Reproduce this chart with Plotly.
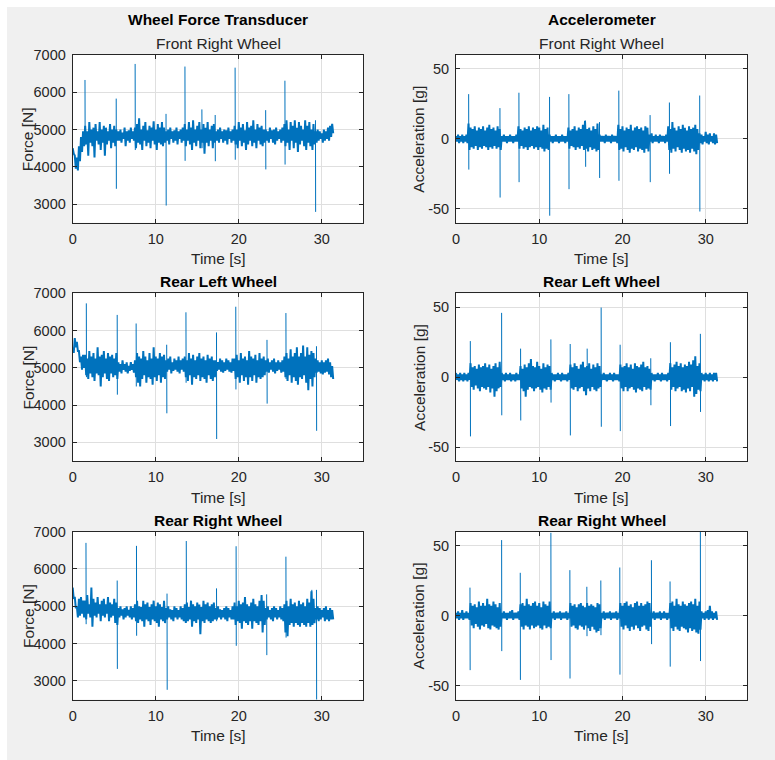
import plotly.graph_objects as go

W, H = 775, 760
BIN = 0.25  # s: each envelope value covers one 0.25 s bin, first bin starts at t = 0

# ---------------- data ----------------
time_ticks = [0, 10, 20, 30]
force_ticks = [3000, 4000, 5000, 6000, 7000]
accel_ticks = [-50, 0, 50]
accel_ticktext = ["-50", "0", "50"]

# Wheel force transducer, Front Right Wheel [N]: per-bin max / min of the noise band
fr_force_hi = [4500, 4300, 4250, 4550, 4800, 4950,
               5100, 4950, 5200, 5000, 5050, 5150, 4950, 5200, 5000, 5100, 5050, 4950, 5150, 5000, 5100, 5000,
               4950, 5000, 4920, 5050, 4950, 4980, 5050, 4950,
               5050, 5150, 5300, 5000, 5100, 5200, 4980, 5100, 5050, 5220, 5000, 5150, 5050, 5200, 5050,
               4950, 5000, 5050, 4950, 4980, 5050, 4950, 5000, 5050,
               5150, 5000, 5200, 5050, 5250, 5000, 5100, 5200, 5000, 5150, 5050, 5200, 5000, 5100, 5150,
               4950, 5000, 5050, 4950, 5000, 4980, 5050, 4950, 5000,
               5100, 5000, 5200, 5050, 5150, 4980, 5200, 5050, 5100, 5250, 5000, 5150, 5050, 5100, 5000,
               5000, 4950, 5050, 4980, 5000, 5050, 4950, 5000, 5050,
               5150, 5250, 5000, 5200, 5100, 5250, 5050, 5200, 5100, 5000, 5250, 5100, 5200, 5000, 5150,
               4950, 5000, 4950, 4900, 5000, 4950, 5050, 5100, 5150]
fr_force_lo = [4350, 3950, 3900, 4150, 4400, 4550,
               4600, 4300, 4650, 4550, 4250, 4700, 4600, 4450, 4650, 4300, 4600, 4700, 4500, 4650, 4550, 4700,
               4700, 4650, 4750, 4550, 4700, 4650, 4750, 4700,
               4500, 4650, 4600, 4450, 4700, 4550, 4650, 4500, 4700, 4600, 4450, 4650, 4600, 4550, 4650,
               4700, 4600, 4750, 4650, 4700, 4600, 4750, 4650, 4700,
               4550, 4700, 4600, 4450, 4650, 4550, 4700, 4500, 4650, 4350, 4650, 4550, 4700, 4500, 4650,
               4700, 4650, 4750, 4650, 4700, 4600, 4750, 4650, 4700,
               4600, 4500, 4700, 4550, 4650, 4450, 4600, 4700, 4550, 4650, 4500, 4700, 4600, 4550, 4650,
               4700, 4650, 4750, 4650, 4600, 4700, 4750, 4650, 4700,
               4550, 4650, 4450, 4700, 4500, 4650, 4400, 4600, 4700, 4550, 4450, 4650, 4550, 4450, 4600,
               4650, 4700, 4750, 4650, 4700, 4750, 4700, 4800, 4900]
fr_force_spk_t = [1.48, 5.24, 7.52, 11.24, 13.52, 15.56, 17.16, 19.56, 23.24, 25.56, 29.24]
fr_force_spk_up = [6330, 5830, 6760, 5420, 6690, 5540, 5390, 6660, 5520, 6310, 5250]
fr_force_spk_dn = [4600, 3410, 4450, 2960, 4160, 4500, 4150, 4190, 3930, 4060, 2790]

# Wheel force transducer, Rear Left Wheel [N]
rl_force_hi = [5550, 5800, 5700, 5450, 5300, 5350,
               5350, 5250, 5450, 5300, 5400, 5250, 5550, 5300, 5350, 5450, 5250, 5400, 5300, 5350, 5250, 5400,
               5150, 5100, 5200, 5100, 5150, 5050, 5150, 5100,
               5200, 5400, 5300, 5250, 5450, 5300, 5200, 5400, 5250, 5550, 5300, 5250, 5400, 5300, 5350,
               5200, 5250, 5300, 5150, 5250, 5200, 5300, 5200, 5250,
               5300, 5200, 5400, 5250, 5350, 5200, 5300, 5400, 5250, 5300, 5200, 5350, 5250, 5300, 5200,
               5200, 5150, 5250, 5200, 5150, 5250, 5200, 5150, 5250,
               5250, 5350, 5200, 5400, 5250, 5300, 5200, 5450, 5300, 5250, 5350, 5200, 5400, 5250, 5300,
               5200, 5250, 5150, 5200, 5250, 5150, 5200, 5150, 5200,
               5300, 5400, 5250, 5500, 5300, 5400, 5550, 5300, 5400, 5600, 5300, 5550, 5350, 5450, 5400,
               5250, 5200, 5150, 5200, 5150, 5200, 5250, 5150, 5050]
rl_force_lo = [5400, 5550, 5450, 5150, 4950, 5000,
               4800, 4700, 4850, 4750, 4650, 4850, 4800, 4500, 4750, 4850, 4700, 4650, 4850, 4750, 4800, 4700,
               4900, 4850, 4950, 4900, 4850, 4920, 4950, 4870,
               4750, 4600, 4500, 4700, 4800, 4600, 4750, 4700, 4550, 4750, 4650, 4800, 4600, 4750, 4700,
               4900, 4950, 4850, 4920, 4950, 4900, 4850, 4950, 4900,
               4750, 4650, 4800, 4550, 4750, 4700, 4800, 4650, 4750, 4700, 4600, 4800, 4700, 4650, 4750,
               4920, 4950, 4900, 4870, 4920, 4950, 4900, 4870, 4920,
               4700, 4750, 4600, 4800, 4650, 4750, 4550, 4750, 4650, 4800, 4600, 4750, 4700, 4750, 4800,
               4900, 4870, 4950, 4900, 4850, 4920, 4950, 4870, 4900,
               4750, 4650, 4800, 4600, 4750, 4650, 4550, 4750, 4700, 4800, 4600, 4400, 4700, 4500, 4750,
               4870, 4900, 4850, 4820, 4870, 4900, 4820, 4750, 4700]
rl_force_spk_t = [1.64, 5.36, 7.64, 11.32, 13.64, 17.32, 19.64, 23.40, 25.68, 29.36]
rl_force_spk_up = [6730, 6420, 6190, 5620, 6490, 5950, 6640, 5750, 6470, 5580]
rl_force_spk_dn = [4750, 4280, 4500, 3780, 4600, 3090, 4420, 4040, 4700, 3310]

# Wheel force transducer, Rear Right Wheel [N]
rr_force_hi = [5500, 5250, 5000, 5200, 5250, 5150,
               5150, 5300, 5050, 5500, 5200, 5100, 5250, 5050, 5150, 5200, 5050, 5250, 5100, 5050, 5200, 5100,
               4950, 5000, 4920, 4950, 5000, 4900, 5000, 4950,
               5050, 5150, 5000, 4980, 5150, 5050, 5100, 4980, 5050, 5150, 5000, 5100, 5050, 4980, 5150,
               4950, 5000, 4920, 4900, 5000, 4950, 4900, 5000, 4950,
               5050, 5100, 4980, 5150, 5050, 5000, 5100, 5050, 4980, 5150, 5050, 5100, 5000, 5050, 5100,
               4950, 5000, 4920, 4900, 4950, 5000, 4950, 4900, 5000,
               5100, 5000, 5150, 5050, 5100, 5250, 5050, 5000, 5100, 5200, 5050, 5000, 5150, 5300, 5150,
               4950, 5000, 4900, 4950, 5000, 4950, 4900, 5000, 4950,
               5050, 5150, 5000, 5200, 5050, 5100, 5000, 5150, 5050, 5100, 5000, 5200, 5100, 5400, 5200,
               4950, 5000, 4950, 4900, 4950, 5000, 4900, 4950, 4900]
rr_force_lo = [5200, 4950, 4700, 4750, 4800, 4700,
               4650, 4800, 4700, 4450, 4750, 4700, 4800, 4600, 4750, 4700, 4800, 4600, 4700, 4750, 4550, 4500,
               4700, 4750, 4650, 4700, 4750, 4700, 4650, 4700,
               4600, 4550, 4650, 4600, 4450, 4650, 4600, 4500, 4650, 4600, 4550, 4450, 4650, 4600, 4550,
               4650, 4700, 4650, 4600, 4700, 4650, 4700, 4650, 4600,
               4550, 4600, 4650, 4450, 4600, 4550, 4650, 4250, 4600, 4550, 4650, 4600, 4550, 4600, 4650,
               4650, 4700, 4650, 4700, 4650, 4600, 4700, 4650, 4650,
               4500, 4600, 4550, 4400, 4600, 4550, 4500, 4600, 4400, 4600, 4550, 4500, 4600, 4300, 4500,
               4650, 4700, 4650, 4600, 4700, 4650, 4700, 4650, 4600,
               4300, 4200, 4500, 4550, 4450, 4550, 4500, 4450, 4550, 4500, 4450, 4550, 4450, 4500, 4550,
               4650, 4600, 4650, 4700, 4600, 4650, 4600, 4650, 4650]
rr_force_spk_t = [1.60, 5.36, 7.68, 11.36, 13.68, 17.32, 19.68, 23.36, 25.68, 28.80, 29.36]
rr_force_spk_up = [6700, 5690, 6620, 5340, 6750, 5480, 6610, 5320, 6330, 5440, 5440]
rr_force_spk_dn = [4520, 3320, 4210, 2760, 4600, 4600, 3940, 3690, 4160, 4500, 2300]

# Accelerometer, Front Right Wheel [g]
fr_acc_hi = [2, 3, 2, 3, 2, 3,
             11, 8, 7, 9, 6, 8, 7, 9, 6, 8, 10, 7, 8, 6, 9, 7,
             2, 3, 2, 2, 3, 2, 2, 3,
             9, 7, 6, 8, 7, 9, 6, 8, 7, 9, 8, 6, 10, 7, 8,
             3, 2, 2, 3, 2, 2, 3, 2, 2,
             8, 6, 7, 9, 6, 8, 7, 10, 13, 7, 8, 6, 9, 7, 11,
             3, 2, 2, 3, 2, 2, 3, 2, 2,
             10, 7, 9, 6, 8, 7, 10, 6, 8, 9, 7, 8, 6, 9, 8,
             3, 4, 2, 3, 2, 3, 2, 2, 3,
             9, 7, 12, 8, 6, 9, 7, 10, 8, 6, 9, 7, 8, 10, 7,
             4, 3, 2, 5, 3, 4, 2, 4, 3]
fr_acc_lo = [-2, -3, -2, -3, -2, -3,
             -8, -6, -7, -5, -8, -6, -7, -5, -6, -8, -6, -7, -5, -7, -6, -8,
             -2, -2, -3, -2, -2, -3, -2, -2,
             -7, -5, -7, -6, -8, -6, -5, -7, -6, -8, -6, -7, -9, -7, -8,
             -2, -3, -2, -2, -3, -2, -2, -3, -2,
             -7, -5, -6, -8, -6, -7, -5, -8, -7, -9, -6, -8, -7, -9, -8,
             -2, -2, -3, -2, -2, -3, -2, -2, -3,
             -8, -7, -9, -6, -8, -10, -7, -8, -6, -9, -7, -8, -10, -7, -9,
             -2, -3, -2, -2, -3, -2, -2, -3, -2,
             -8, -10, -7, -9, -6, -8, -10, -7, -9, -8, -10, -7, -9, -11, -8,
             -3, -4, -2, -3, -4, -2, -3, -4, -3]
fr_acc_spk_t = [1.52, 5.28, 7.56, 11.24, 13.56, 15.56, 17.24, 19.56, 23.32, 25.64, 29.28]
fr_acc_spk_up = [32, 22, 33, 30, 32, 13, 12, 34.5, 17, 26, 31]
fr_acc_spk_dn = [-22, -42, -31, -55, -36, -20, -28, -30, -31, -25, -52]

# Accelerometer, Rear Left Wheel [g]
rl_acc_hi = [3, 2, 3, 2, 3, 2, 3,
             10, 7, 8, 6, 9, 7, 8, 10, 7, 9, 6, 8, 10, 7, 11,
             3, 2, 3, 2, 3, 2, 2, 3, 2,
             8, 6, 9, 7, 10, 13, 8, 7, 11, 8, 6, 10, 7, 9, 8,
             3, 2, 2, 3, 2, 3, 2, 2, 3,
             9, 7, 10, 8, 6, 9, 11, 7, 8, 10, 6, 9, 7, 10, 8,
             2, 3, 2, 2, 3, 2, 3, 2, 2,
             9, 7, 8, 10, 7, 9, 6, 10, 8, 7, 9, 11, 7, 8, 6,
             3, 2, 2, 3, 2, 3, 2, 2, 3,
             10, 7, 9, 11, 8, 10, 7, 9, 8, 11, 9, 12, 15, 8, 10,
             3, 2, 3, 2, 3, 2, 3, 3]
rl_acc_lo = [-2, -3, -2, -3, -2, -3, -2,
             -7, -9, -6, -8, -10, -7, -8, -9, -7, -11, -8, -14, -10, -8, -7,
             -2, -3, -2, -2, -3, -2, -3, -2, -2,
             -8, -10, -14, -9, -7, -8, -10, -8, -7, -9, -11, -8, -9, -7, -9,
             -2, -3, -2, -2, -3, -2, -2, -3, -2,
             -8, -9, -7, -10, -8, -7, -10, -13, -8, -10, -7, -9, -10, -8, -7,
             -2, -2, -3, -2, -2, -3, -2, -2, -3,
             -8, -10, -7, -10, -8, -7, -9, -11, -8, -9, -10, -7, -9, -8, -9,
             -2, -3, -2, -2, -3, -2, -2, -3, -2,
             -9, -7, -10, -8, -7, -10, -9, -11, -8, -10, -7, -14, -12, -9, -10,
             -2, -3, -2, -3, -2, -3, -2, -3]
rl_acc_spk_t = [1.72, 5.48, 7.76, 11.40, 13.72, 15.76, 17.44, 19.72, 23.40, 25.76, 29.36]
rl_acc_spk_up = [25.8, 46, 20.4, 27, 23.7, 20.4, 49.8, 23.2, 13.5, 25, 31]
rl_acc_spk_dn = [-42.4, -27.3, -31, -18.2, -41.7, -8, -35.5, -38.6, -20.1, -35, -24.9]

# Accelerometer, Rear Right Wheel [g]
rr_acc_hi = [2, 3, 2, 4, 2, 3, 2,
             9, 7, 8, 6, 10, 7, 9, 7, 12, 8, 7, 10, 8, 6, 9,
             2, 3, 2, 2, 3, 4, 2, 2, 3,
             8, 9, 7, 12, 8, 7, 9, 10, 7, 9, 6, 10, 8, 7, 10,
             2, 3, 2, 2, 3, 2, 2, 3, 2,
             9, 7, 8, 6, 8, 9, 7, 6, 9, 7, 8, 7, 6, 9, 8,
             2, 3, 2, 2, 3, 2, 2, 3, 2,
             9, 7, 9, 10, 7, 8, 6, 9, 10, 7, 9, 7, 8, 10, 9,
             2, 3, 2, 2, 3, 2, 3, 2, 2,
             9, 10, 7, 12, 8, 7, 10, 8, 7, 9, 10, 8, 12, 7, 10,
             3, 2, 3, 4, 7, 3, 2, 3]
rr_acc_lo = [-2, -3, -2, -3, -2, -2, -3,
             -7, -9, -6, -8, -10, -7, -8, -6, -9, -10, -7, -8, -9, -10, -8,
             -2, -2, -3, -2, -2, -3, -2, -2, -3,
             -8, -10, -7, -8, -10, -7, -9, -8, -7, -9, -10, -7, -9, -8, -9,
             -2, -3, -2, -2, -3, -2, -2, -3, -2,
             -8, -7, -9, -10, -7, -8, -10, -7, -9, -11, -8, -10, -12, -11, -9,
             -2, -3, -2, -2, -3, -2, -2, -3, -2,
             -8, -10, -7, -9, -11, -8, -10, -7, -9, -11, -8, -7, -10, -11, -8,
             -2, -3, -2, -2, -3, -2, -2, -3, -2,
             -9, -11, -8, -10, -11, -8, -9, -10, -12, -9, -11, -10, -12, -13, -10,
             -2, -3, -2, -3, -2, -3, -2, -3]
rr_acc_spk_t = [1.68, 5.48, 7.72, 11.40, 13.68, 15.72, 17.40, 19.68, 23.48, 25.72, 29.36]
rr_acc_spk_up = [20, 54, 30.6, 59.2, 32.5, 20.6, 25.1, 34.4, 39.6, 24.4, 64]
rr_acc_spk_dn = [-39, -25.4, -46, -31.8, -45, -14.7, -14, -42.2, -20.4, -36.5, -32.5]


# ---------------- build ----------------
def band(hi, lo):
    x, y = [], []
    for i, (h, l) in enumerate(zip(hi, lo)):
        t = i * BIN
        x += [t, t + BIN / 2]
        y += [h, l]
    return x, y


def spikes(ts, up, dn):
    x, y = [], []
    for t, u, d in zip(ts, up, dn):
        x += [t, t + 0.02, None]
        y += [u, d, None]
    return x, y


panels = [
    (fr_force_hi, fr_force_lo, fr_force_spk_t, fr_force_spk_up, fr_force_spk_dn),
    (fr_acc_hi, fr_acc_lo, fr_acc_spk_t, fr_acc_spk_up, fr_acc_spk_dn),
    (rl_force_hi, rl_force_lo, rl_force_spk_t, rl_force_spk_up, rl_force_spk_dn),
    (rl_acc_hi, rl_acc_lo, rl_acc_spk_t, rl_acc_spk_up, rl_acc_spk_dn),
    (rr_force_hi, rr_force_lo, rr_force_spk_t, rr_force_spk_up, rr_force_spk_dn),
    (rr_acc_hi, rr_acc_lo, rr_acc_spk_t, rr_acc_spk_up, rr_acc_spk_dn),
]

LINE = "#0072BD"
AX = "#262626"
GRID = "#dfdfdf"
BG = "#f0f0f0"
FONT = "Liberation Sans, Arial, Helvetica, sans-serif"

fig = go.Figure()
for k, (hi, lo, st, su, sd) in enumerate(panels):
    sfx = "" if k == 0 else str(k + 1)
    bx, by = band(hi, lo)
    sx, sy = spikes(st, su, sd)
    fig.add_trace(go.Scatter(x=sx, y=sy, mode="lines", line=dict(color=LINE, width=1),
                             xaxis="x" + sfx, yaxis="y" + sfx, connectgaps=False,
                             showlegend=False, hoverinfo="skip"))
    fig.add_trace(go.Scatter(x=bx, y=by, mode="lines",
                             line=dict(color=LINE, width=2, simplify=False),
                             xaxis="x" + sfx, yaxis="y" + sfx,
                             showlegend=False, hoverinfo="skip"))


def px(v):
    return v / W


def py(v):
    return 1 - v / H


col_x = [(72.7, 363.3), (456.0, 747.3)]
row_y = [(55.0, 222.7), (293.3, 461.0), (531.7, 699.5)]

common = dict(showline=True, linecolor=AX, linewidth=1, mirror="ticks",
              ticks="inside", ticklen=4, tickcolor=AX, tickwidth=1,
              showgrid=True, gridcolor=GRID, gridwidth=1, zeroline=False,
              automargin=False,
              tickfont=dict(family=FONT, size=14.5, color=AX))

layout = dict(width=W, height=H, margin=dict(l=0, r=0, t=0, b=0, autoexpand=False),
              paper_bgcolor=BG, plot_bgcolor="white", showlegend=False)

for k in range(6):
    r, c = divmod(k, 2)
    sfx = "" if k == 0 else str(k + 1)
    x0, x1 = col_x[c]
    y0, y1 = row_y[r]
    xa = dict(common, domain=[px(x0), px(x1)], range=[0, 35], tickvals=time_ticks,
              anchor="y" + sfx, ticklabelstandoff=3)
    if c == 0:
        ya = dict(common, domain=[py(y1), py(y0)], range=[2500, 7000],
                  tickvals=force_ticks, anchor="x" + sfx, ticklabelstandoff=3)
    else:
        ya = dict(common, domain=[py(y1), py(y0)], range=[-60, 60],
                  tickvals=accel_ticks, ticktext=accel_ticktext, anchor="x" + sfx,
                  ticklabelstandoff=3)
    layout["xaxis" + sfx] = xa
    layout["yaxis" + sfx] = ya

ann = []


def text(s, x, y, size=15.5, bold=False, angle=0):
    ann.append(dict(text=("<b>%s</b>" % s) if bold else s, x=px(x), y=py(y),
                    xref="paper", yref="paper", xanchor="center", yanchor="middle",
                    showarrow=False, textangle=angle,
                    font=dict(family=FONT, size=size, color="#000000" if bold else AX)))


cx = [(a + b) / 2 for a, b in col_x]
text("Wheel Force Transducer", cx[0], 20, bold=True)
text("Front Right Wheel", cx[0], 43.5)
text("Accelerometer", cx[1], 20, bold=True)
text("Front Right Wheel", cx[1], 43.5)
for c in range(2):
    text("Rear Left Wheel", cx[c], 281.5, bold=True)
    text("Rear Right Wheel", cx[c], 520, bold=True)
for r in range(3):
    y0, y1 = row_y[r]
    for c in range(2):
        text("Time [s]", cx[c], y1 + 36)
    text("Force [N]", 28.3, (y0 + y1) / 2, angle=-90)
    text("Acceleration [g]", 418.8, (y0 + y1) / 2, angle=-90)
layout["annotations"] = ann

# white page strip along the top and left edges, as in the reference
layout["shapes"] = [
    dict(type="rect", xref="paper", yref="paper", x0=0, x1=px(7), y0=0, y1=1,
         fillcolor="white", line=dict(width=0), layer="below"),
    dict(type="rect", xref="paper", yref="paper", x0=0, x1=1, y0=py(7), y1=1,
         fillcolor="white", line=dict(width=0), layer="below"),
]

fig.update_layout(**layout)
fig.write_html("out.html",
               post_script="document.body.style.margin='0px';"
                           "document.body.style.background='%s';"
                           "document.documentElement.style.background='%s';" % (BG, BG))
